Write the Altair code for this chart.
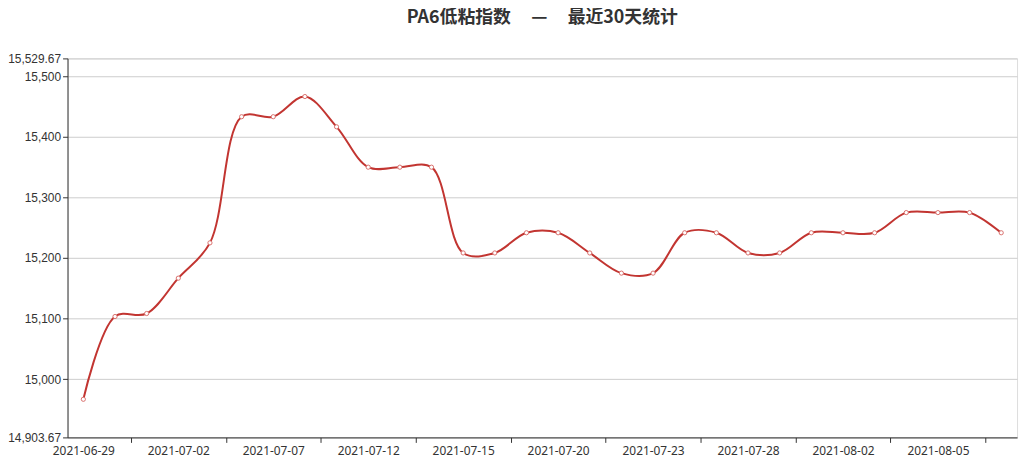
import altair as alt
import pandas as pd

dates = ["2021-06-29", "2021-06-30", "2021-07-01", "2021-07-02", "2021-07-05",
         "2021-07-06", "2021-07-07", "2021-07-08", "2021-07-09", "2021-07-12",
         "2021-07-13", "2021-07-14", "2021-07-15", "2021-07-16", "2021-07-19",
         "2021-07-20", "2021-07-21", "2021-07-22", "2021-07-23", "2021-07-26",
         "2021-07-27", "2021-07-28", "2021-07-29", "2021-07-30", "2021-08-02",
         "2021-08-03", "2021-08-04", "2021-08-05", "2021-08-06", "2021-08-09"]
values = [14966.67, 15103.33, 15108.33, 15166.67, 15225.00,
          15433.33, 15433.33, 15466.67, 15416.67, 15350.00,
          15350.00, 15350.00, 15208.33, 15208.33, 15241.67,
          15241.67, 15208.33, 15175.00, 15175.00, 15241.67,
          15241.67, 15208.33, 15208.33, 15241.67, 15241.67,
          15241.67, 15275.00, 15275.00, 15275.00, 15241.67]
label_dates = dates[::3]
y_ticks = [14903.67, 15000, 15100, 15200, 15300, 15400, 15500, 15529.67]
y_domain = [14903.67, 15529.67]
sp = "\u00a0" * 5
title_text = "PA6低粘指数" + sp + "—" + sp + "最近30天统计"

df = pd.DataFrame({"date": dates, "value": values})

W = 957
step = W / len(dates)

x_enc = alt.X("date:O", sort=None, title=None,
              scale=alt.Scale(type="point", padding=0.5),
              axis=alt.Axis(values=label_dates, labelAngle=0,
                            tickOffset=1.5 * step, labelOffset=-1.5 * step,
                            tickSize=5, tickColor="#333", domainColor="#333",
                            labelColor="#333", labelFontSize=12, labelPadding=3,
                            labelFont="Noto Sans", grid=False))
y_enc = alt.Y("value:Q", title=None,
              scale=alt.Scale(domain=y_domain, nice=False, zero=False),
              axis=alt.Axis(values=y_ticks, format=",.2~f", labelOverlap=False,
                            labelFlush=False, grid=True, gridColor="#ccc",
                            tickSize=5, tickColor="#333", domainColor="#333",
                            labelColor="#333", labelFontSize=12, labelPadding=2,
                            labelFont="Liberation Sans"))

base = alt.Chart(df).encode(x=x_enc, y=y_enc)
line = base.mark_line(color="#c23531", strokeWidth=2, interpolate="catmull-rom")
pts = base.mark_point(shape="circle", filled=True, fill="white", stroke="#d9706d",
                      strokeWidth=1, size=18, opacity=1)

chart = (line + pts).properties(
    width=W, height=382,
    title=alt.TitleParams(text=title_text, fontSize=18, fontWeight="bold",
                          font="Noto Sans CJK SC", color="#333",
                          anchor="middle", frame="group", offset=26),
    autosize=alt.AutoSizeParams(type="none"),
    padding={"left": 60, "top": 49, "right": 5, "bottom": 24},
).configure_view(stroke=None).configure(background="white")

chart.save("out.html", embed_options={"renderer": "svg", "actions": False})
